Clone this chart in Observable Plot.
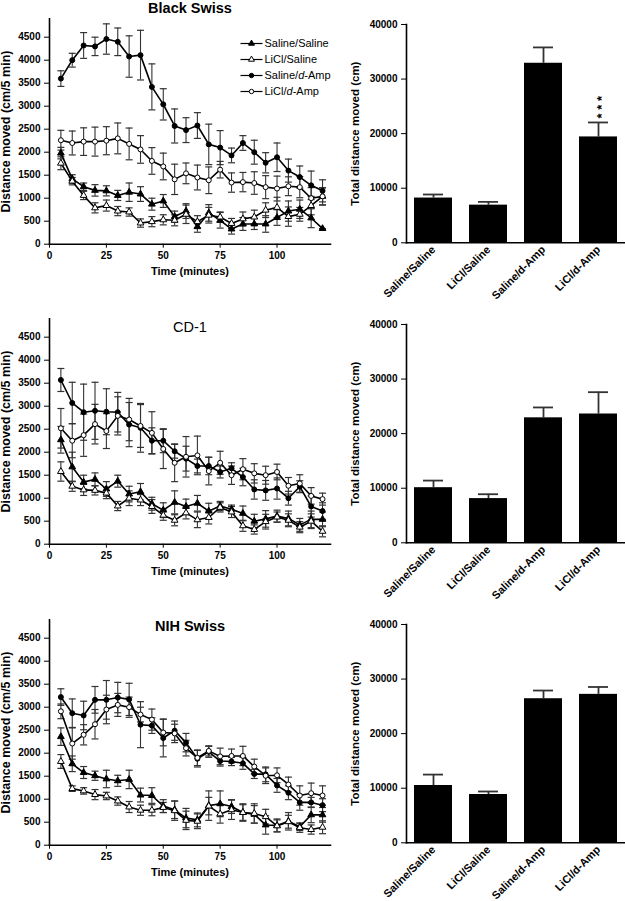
<!DOCTYPE html>
<html>
<head>
<meta charset="utf-8">
<script src="https://cdn.jsdelivr.net/npm/d3@7"></script>
<script src="https://cdn.jsdelivr.net/npm/@observablehq/plot@0.6"></script>
<style>
  body { margin: 0; background: #fff; }
  #fig { position: relative; width: 625px; height: 901px; overflow: hidden; background: #fff; }
  .panel { position: absolute; }
  .panel svg { overflow: visible; }
</style>
</head>
<body>
<div id="fig"></div>
<script>
// ---------- data ----------
const times = [5,10,15,20,25,30,35,40,45,50,55,60,65,70,75,80,85,90,95,100,105,110,115,120];
const groups = ["Saline/Saline", "LiCl/Saline", "Saline/d-Amp", "LiCl/d-Amp"];
const strains = ["Black Swiss", "CD-1", "NIH Swiss"];
const xTicks = [0, 25, 50, 75, 100];
const yTicksLine = [0,500,1000,1500,2000,2500,3000,3500,4000,4500];
const yTicksBar = [0,10000,20000,30000,40000];
const xLabel = "Time (minutes)";
const yLabelLine = "Distance moved (cm/5 min)";
const yLabelBar = "Total distance moved (cm)";

// Black Swiss
const bs_SS      = [1980,1420,1250,1170,1160,1060,1130,1090,870,940,600,720,380,680,520,330,440,440,440,580,720,760,570,340];
const bs_SS_err  = [125,90,80,125,110,110,200,160,130,140,120,160,120,180,170,110,140,120,180,170,220,200,210,0];
const bs_LS      = [1760,1370,1060,790,840,720,700,460,490,530,520,650,490,630,590,450,550,590,740,800,600,650,840,1040];
const bs_LS_err  = [140,80,90,110,120,100,90,90,110,110,120,200,130,170,110,110,150,150,160,220,210,150,200,185];
const bs_SA      = [3600,4000,4320,4300,4460,4400,4080,4110,3420,3040,2570,2480,2580,2170,2100,1930,2200,2000,1770,1890,1600,1460,1280,1160];
const bs_SA_err  = [170,150,280,200,330,300,450,540,500,340,370,270,280,440,370,160,160,260,220,310,250,240,310,240];
const bs_LA      = [2260,2200,2230,2230,2250,2300,2180,2060,1810,1690,1410,1540,1450,1390,1620,1340,1350,1330,1240,1210,1260,1240,1000,1040];
const bs_LA_err  = [215,260,300,315,305,335,345,300,290,290,330,225,270,290,180,210,210,245,250,270,205,230,230,190];

// CD-1
const cd_SS      = [2270,1680,1350,1410,1200,1370,1090,1140,880,740,910,820,890,720,830,760,670,500,550,610,560,420,540,540];
const cd_SS_err  = [290,320,150,140,160,130,170,180,140,160,250,160,170,170,100,90,160,150,180,130,160,140,180,160];
const cd_LS      = [1580,1260,1180,1170,1110,830,1000,960,820,630,520,680,530,580,800,700,400,320,490,590,520,370,500,280];
const cd_LS_err  = [210,110,120,100,120,100,160,120,150,110,120,130,170,140,100,120,120,100,160,110,140,120,160,120];
const cd_SA      = [3570,3070,2870,2900,2880,2870,2600,2530,2250,2250,2020,1860,1700,1700,1570,1650,1460,1190,1170,1210,1000,1250,820,720];
const cd_SA_err  = [250,450,610,620,500,430,480,530,280,260,150,270,150,190,130,120,190,210,215,230,150,130,230,180];
const cd_LA      = [2520,2250,2370,2610,2460,2790,2710,2570,2420,2070,1770,1900,1930,1590,1770,1500,1630,1540,1500,1570,1270,1320,1050,980];
const cd_LA_err  = [430,370,460,430,380,415,460,465,460,425,410,440,420,300,250,200,230,210,195,170,180,190,180,130];

// NIH Swiss
const nih_SS     = [2360,1770,1580,1510,1440,1400,1430,1090,1080,850,770,590,550,860,900,840,710,670,440,430,520,400,660,660];
const nih_SS_err = [190,170,130,100,190,120,200,150,170,140,190,210,150,320,280,150,170,190,200,140,190,80,170,160];
const nih_LS     = [1820,1230,1180,1100,1070,960,830,760,760,820,750,540,520,850,680,770,710,690,620,420,510,380,340,390];
const nih_LS_err = [150,60,70,110,80,90,120,110,120,110,210,200,160,190,200,210,190,210,160,130,140,100,100,140];
const nih_SA     = [3220,2870,2820,3160,3160,3210,3170,2620,2600,2330,2490,2230,1880,2030,1830,1820,1780,1550,1540,1300,1140,930,930,870];
const nih_SA_err = [180,310,310,290,420,330,350,500,170,410,210,200,180,120,110,90,130,100,160,150,150,170,110,140];
const nih_LA     = [2910,2210,2400,2630,2950,3050,3000,2840,2730,2450,2430,2110,1900,2050,1930,1940,1940,1710,1510,1520,1320,1080,1130,1080];
const nih_LA_err = [160,340,220,320,310,250,220,160,230,290,200,170,170,110,180,150,210,160,170,160,160,210,220,210];

// Totals (bar charts)
const bs_total      = [8200, 6900, 32900, 19400];
const bs_total_err  = [650, 600, 2900, 2650];
const cd_total      = [10100, 8100, 22900, 23600];
const cd_total_err  = [1300, 800, 1900, 4000];
const nih_total     = [10500, 8850, 26400, 27200];
const nih_total_err = [2000, 550, 1500, 1350];
const bs_sig  = ["", "", "", "***"];
const cd_sig  = ["", "", "", ""];
const nih_sig = ["", "", "", ""];

// ---------- drawing ----------
const FONT = '"Liberation Sans", Arial, Helvetica, sans-serif';
const fig = document.getElementById("fig");
function place(el, left, top) {
  const w = document.createElement("div");
  w.className = "panel";
  w.style.left = left + "px";
  w.style.top = top + "px";
  w.appendChild(el);
  fig.appendChild(w);
}
const symbolScale = {domain: groups, range: ["triangle", "triangle", "circle", "circle"]};
const fillScale = {type: "ordinal", domain: groups, range: ["#000", "#fff", "#000", "#fff"]};
const cap = {draw(ctx) { ctx.moveTo(-3.5, 0); ctx.lineTo(3.5, 0); }};

function linePlot(series, title, titleBold, titleDy) {
  const rows = [];
  series.forEach(([mean, err], gi) => {
    times.forEach((t, i) => rows.push({g: groups[gi], t, v: mean[i], e: err[i]}));
  });
  return Plot.plot({
    width: 330, height: 290,
    marginLeft: 49, marginRight: 0, marginTop: 18.3, marginBottom: 46.3,
    style: {fontFamily: FONT, background: "transparent", color: "#000"},
    x: {domain: [0, 123.5]},
    y: {domain: [0, 4900]},
    symbol: symbolScale,
    color: fillScale,
    marks: [
      Plot.ruleX(rows, {x: "t", y1: d => d.v - d.e, y2: d => d.v + d.e, stroke: "#333", strokeWidth: 1.1}),
      Plot.dot(rows, {x: "t", y: d => d.v + d.e, symbol: cap, stroke: "#333", fill: "none", strokeWidth: 1.2}),
      Plot.dot(rows, {x: "t", y: d => d.v - d.e, symbol: cap, stroke: "#333", fill: "none", strokeWidth: 1.2}),
      Plot.line(rows, {x: "t", y: "v", z: "g", stroke: "#000", strokeWidth: 1.6}),
      Plot.dot(rows, {x: "t", y: "v", symbol: "g", fill: "g", stroke: "#000", strokeWidth: 1, r: 2.5}),
      Plot.frame({anchor: "left", stroke: "#000", strokeWidth: 1.6}),
      Plot.frame({anchor: "bottom", stroke: "#000", strokeWidth: 1.6}),
      Plot.axisX({ticks: xTicks, tickSize: 4, tickPadding: 4, fontSize: 10, fontWeight: "bold", label: null}),
      Plot.axisY({ticks: yTicksLine, tickFormat: "d", tickSize: 5, tickPadding: 4, fontSize: 10, fontWeight: "bold", label: null}),
      Plot.text([xLabel], {text: d => d, frameAnchor: "bottom", textAnchor: "middle", lineAnchor: "middle", dy: 27, fontSize: 11, fontWeight: "bold"}),
      Plot.text([yLabelLine], {text: d => d, frameAnchor: "left", textAnchor: "middle", lineAnchor: "middle", rotate: -90, dx: -43.5, fontSize: 12.5, fontWeight: "bold"}),
      Plot.text([title], {text: d => d, frameAnchor: "top", textAnchor: "middle", lineAnchor: "middle", dy: titleDy, fontSize: 14.5, fontWeight: titleBold ? "bold" : "normal"})
    ]
  });
}

function barPlot(means, errs, sig) {
  const rows = groups.map((g, i) => ({g, v: means[i], e: errs[i], s: sig[i]}));
  return Plot.plot({
    width: 295, height: 300,
    marginLeft: 76, marginRight: 0, marginTop: 24, marginBottom: 57.7,
    style: {fontFamily: FONT, background: "transparent", color: "#000"},
    x: {domain: groups, paddingInner: 0.31, paddingOuter: 0.145},
    y: {domain: [0, 40000]},
    marks: [
      Plot.ruleX(rows, {x: "g", y1: "v", y2: d => d.v + d.e, stroke: "#333", strokeWidth: 1.8}),
      Plot.tickY(rows, {x: "g", y: d => d.v + d.e, inset: 9, stroke: "#333", strokeWidth: 1.8}),
      Plot.barY(rows, {x: "g", y: "v", fill: "#000"}),
      Plot.text(rows, {x: "g", y: d => d.v + d.e, text: d => d.s.split("").join(" "), rotate: -90, textAnchor: "start", lineAnchor: "middle", dx: 3.4, dy: -4, fontSize: 13, fontWeight: "bold"}),
      Plot.frame({anchor: "left", stroke: "#000", strokeWidth: 1.6}),
      Plot.frame({anchor: "bottom", stroke: "#000", strokeWidth: 1.6}),
      Plot.axisX({tickRotate: -45, tickSize: 0, tickPadding: 5, fontSize: 11, fontWeight: "bold", label: null}),
      Plot.axisY({ticks: yTicksBar, tickFormat: "d", tickSize: 5, tickPadding: 4, fontSize: 10, fontWeight: "bold", label: null}),
      Plot.text([yLabelBar], {text: d => d, frameAnchor: "left", textAnchor: "middle", lineAnchor: "middle", rotate: -90, dx: -51, fontSize: 11.5, fontWeight: "bold"})
    ]
  });
}

function legendPlot() {
  const svg = Plot.plot({
    width: 95, height: 70, margin: 0,
    style: {fontFamily: FONT, background: "transparent", color: "#000", overflow: "visible"},
    x: {domain: [0, 1], range: [4, 26], axis: null},
    y: {type: "point", domain: groups, range: [9.3, 58.6], padding: 0, axis: null},
    symbol: symbolScale,
    color: fillScale,
    marks: [
      Plot.link(groups, {x1: 0, x2: 1, y1: d => d, y2: d => d, stroke: "#000", strokeWidth: 1.2}),
      Plot.dot(groups, {x: 0.5, y: d => d, symbol: d => d, fill: d => d, stroke: "#000", strokeWidth: 1, r: 2.2}),
      Plot.text(groups, {x: 1, y: d => d, text: d => d, textAnchor: "start", dx: 2, fontSize: 11, fontWeight: "normal"})
    ]
  });
  svg.querySelectorAll("text").forEach(t => {
    const s = t.textContent;
    if (s.includes("/d-")) {
      const [a, b] = s.split("/d-");
      t.textContent = "";
      const ns = "http://www.w3.org/2000/svg";
      const t1 = document.createElementNS(ns, "tspan"); t1.textContent = a + "/";
      const t2 = document.createElementNS(ns, "tspan"); t2.textContent = "d"; t2.setAttribute("font-style", "italic");
      const t3 = document.createElementNS(ns, "tspan"); t3.textContent = "-" + b;
      t.append(t1, t2, t3);
    }
  });
  return svg;
}

const lineData = [
  [[bs_SS, bs_SS_err], [bs_LS, bs_LS_err], [bs_SA, bs_SA_err], [bs_LA, bs_LA_err]],
  [[cd_SS, cd_SS_err], [cd_LS, cd_LS_err], [cd_SA, cd_SA_err], [cd_LA, cd_LA_err]],
  [[nih_SS, nih_SS_err], [nih_LS, nih_LS_err], [nih_SA, nih_SA_err], [nih_LA, nih_LA_err]]
];
const barData = [
  [bs_total, bs_total_err, bs_sig],
  [cd_total, cd_total_err, cd_sig],
  [nih_total, nih_total_err, nih_sig]
];
const rowTopsLeft = [0, 300, 600.5];
const rowTopsRight = [0, 300, 600.3];
const titleBold = [true, false, true];
const titleDy = [-10.8, 8.4, 6.2];

strains.forEach((name, r) => {
  place(linePlot(lineData[r], name, titleBold[r], titleDy[r]), 0, rowTopsLeft[r]);
  place(barPlot(...barData[r]), 330, rowTopsRight[r]);
});
place(legendPlot(), 236, 33);
</script>
</body>
</html>
